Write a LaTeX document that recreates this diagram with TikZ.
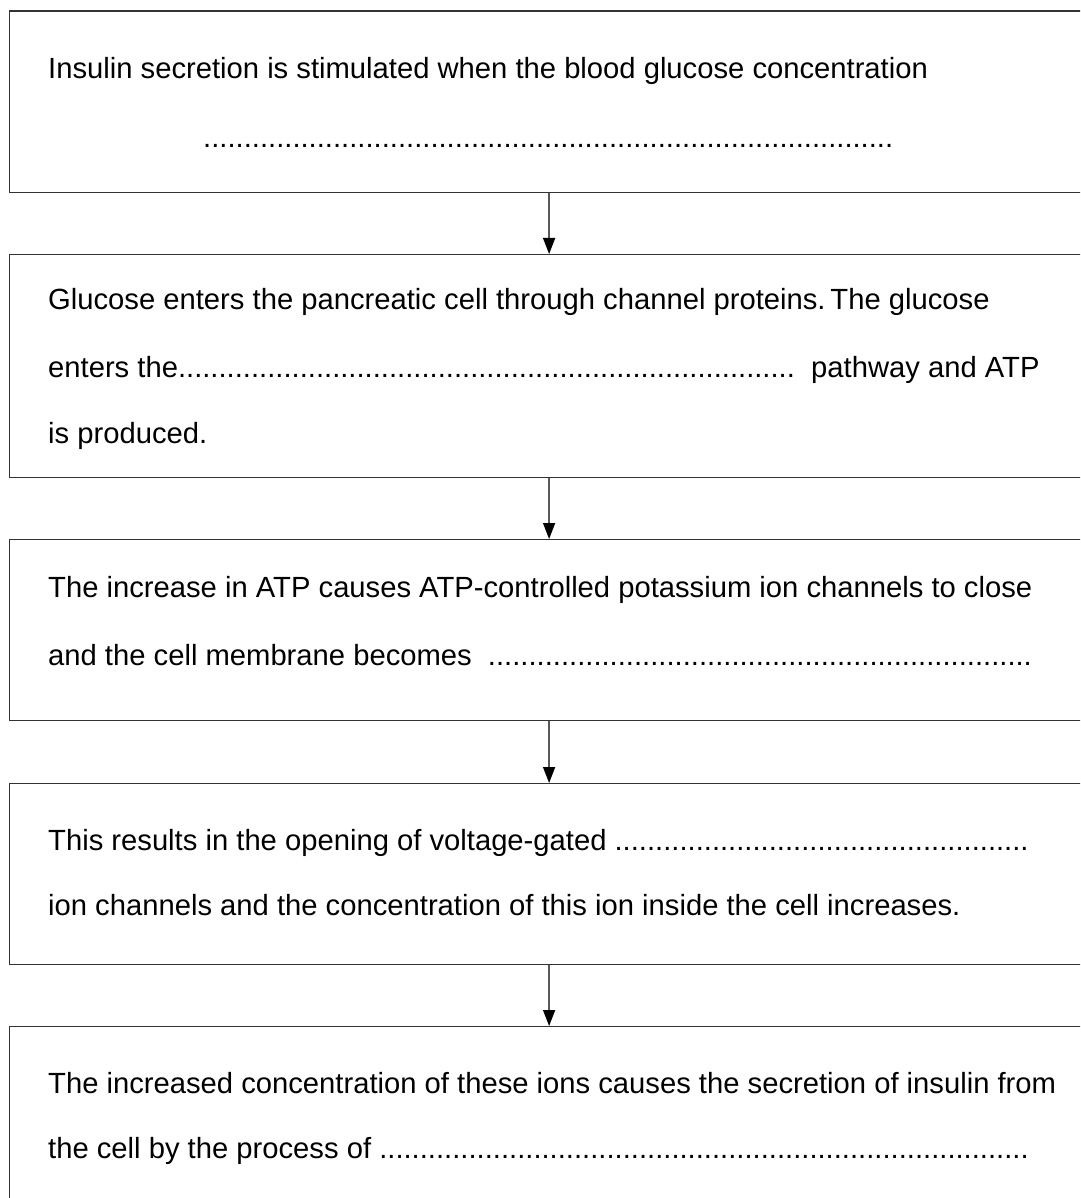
\documentclass[tikz,border=0pt]{standalone}
\usepackage{fontspec}
\setmainfont{Liberation Sans}
\usetikzlibrary{arrows.meta,positioning}

\newcommand{\blank}[1]{\foreach \i in {1,...,#1}{.}}

\tikzset{
  stage/.style={draw=black!80, line width=1.2pt, minimum width=1080pt, anchor=north west, inner sep=0pt},
  txt/.style={font=\fontsize{29.2}{67}\selectfont, anchor=base west, inner sep=0pt},
  flow/.style={draw=black!65, line width=1.5pt, -{Triangle[width=12pt,length=16pt,color=black]}},
}

\begin{document}
\begin{tikzpicture}[x=1pt,y=-1pt]
   \useasboundingbox (0,0) rectangle (1080,1198);
   \clip (0,0) rectangle (1080,1198);

   % the five stages
   \node[stage, minimum height=181.5pt] (s1) at (8.5,10.5) {};
   \node[stage, minimum height=223pt]   (s2) at (8.5,254) {};
   \node[stage, minimum height=181pt]   (s3) at (8.5,539) {};
   \node[stage, minimum height=181pt]   (s4) at (8.5,783) {};
   \node[stage, minimum height=181.5pt] (s5) at (8.5,1026) {};

   % texts
   \node[txt] (t1a) at (48,79) {Insulin secretion is stimulated when the blood glucose concentration};
   \node[txt, anchor=base] (t1b) at (548,148) {\blank{85}};

   \node[txt] (t2a) at (48,309) {Glucose enters the pancreatic cell through channel proteins.\,The glucose};
   \node[txt] (t2b) at (48,377) {enters the\blank{76}\ \ pathway and ATP};
   \node[txt] (t2c) at (48,443) {is produced.};

   \node[txt] (t3a) at (48,597) {The increase in ATP causes ATP-controlled potassium ion channels to close};
   \node[txt] (t3b) at (48,665) {and the cell membrane becomes\ \ \blank{67}};

   \node[txt] (t4a) at (48,850) {This results in the opening of voltage-gated \blank{51}};
   \node[txt] (t4b) at (48,915) {ion channels and the concentration of this ion inside the cell increases.};

   \node[txt] (t5a) at (48,1093) {The increased concentration of these ions causes the secretion of insulin from};
   \node[txt] (t5b) at (48,1158) {the cell by the process of \blank{80}};

   % arrows between stages
   \draw[flow] (s1) -- (s2);
   \draw[flow] (s2) -- (s3);
   \draw[flow] (s3) -- (s4);
   \draw[flow] (s4) -- (s5);
\end{tikzpicture}
\end{document}
